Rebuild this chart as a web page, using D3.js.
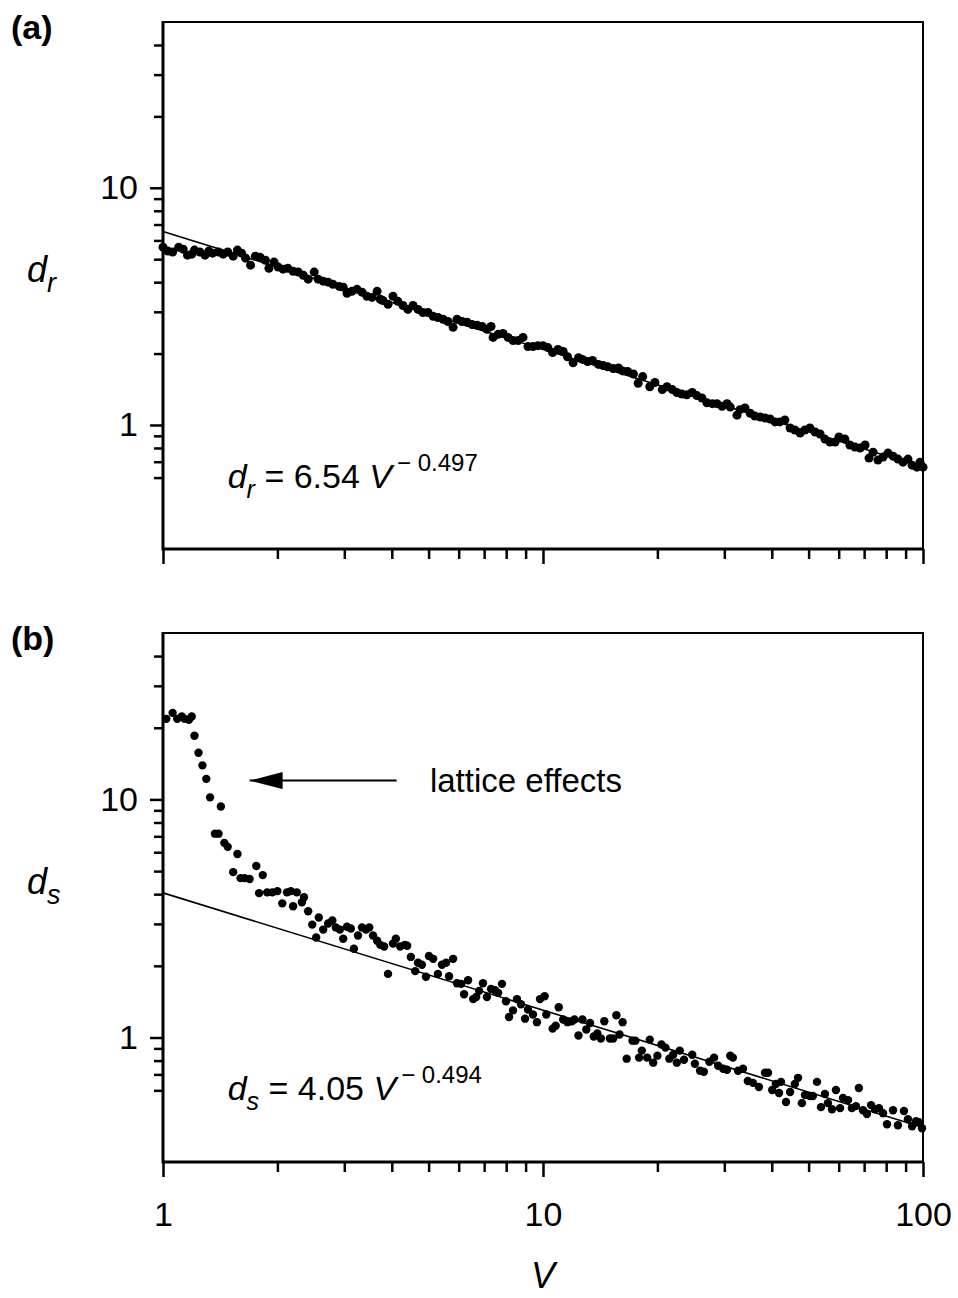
<!DOCTYPE html>
<html>
<head>
<meta charset="utf-8">
<script src="https://cdn.jsdelivr.net/npm/d3@7"></script>
<style>
  body { margin: 0; background: #fff; }
  svg { font-family: Arial, "Liberation Sans", sans-serif; }
</style>
</head>
<body>
<div id="chart"></div>
<script>
// (a) d_r against V
const vR = [1.00,1.03,1.06,1.10,1.13,1.16,1.19,1.21,1.25,1.29,1.32,1.35,1.40,1.44,1.48,1.53,1.57,1.61,1.65,1.70,
  1.75,1.80,1.86,1.90,1.96,2.01,2.07,2.13,2.20,2.27,2.34,2.41,2.50,2.56,2.64,2.72,2.80,2.91,2.98,3.05,
  3.14,3.24,3.34,3.44,3.55,3.66,3.73,3.79,3.91,4.03,4.15,4.28,4.41,4.55,4.69,4.83,4.98,5.14,5.29,5.46,
  5.62,5.80,5.94,6.12,6.31,6.51,6.71,6.91,7.12,7.30,7.39,7.62,7.85,8.09,8.34,8.60,8.86,9.13,9.41,9.70,
  10.0,10.3,10.6,10.95,11.3,11.6,12.0,12.4,12.7,13.1,13.5,14.0,14.4,14.8,15.3,15.8,16.2,16.7,17.3,17.8,
  18.3,19.1,19.7,20.6,21.2,21.9,22.5,23.2,23.9,24.7,25.4,26.2,27.0,27.9,28.7,29.6,30.5,31.1,32.4,33.0,
  34.0,35.1,36.1,37.3,38.4,39.6,40.8,42.0,43.3,44.7,46.0,47.5,48.9,50.4,52.0,53.6,55.2,56.9,58.7,60.1,
  62.3,64.2,66.2,68.3,70.4,72.1,73.9,76.1,78.5,80.9,83.4,85.9,88.6,91.3,93.6,96.4,98.2,100]
const dR = [5.62,5.41,5.36,5.62,5.51,5.20,5.25,5.46,5.36,5.20,5.41,5.30,5.36,5.25,5.36,5.15,5.46,5.30,5.05,4.72,
  5.15,5.10,4.95,4.58,4.86,4.63,4.54,4.58,4.45,4.41,4.28,4.12,4.41,4.12,4.04,4.00,3.92,3.84,3.81,3.59,
  3.66,3.73,3.63,3.49,3.45,3.66,3.39,3.35,3.23,3.49,3.32,3.19,3.07,3.19,3.07,2.98,2.98,2.87,2.84,2.79,
  2.73,2.58,2.79,2.73,2.71,2.65,2.63,2.60,2.53,2.60,2.34,2.41,2.43,2.34,2.27,2.27,2.34,2.14,2.14,2.16,
  2.16,2.12,2.02,2.08,2.04,1.94,1.83,1.92,1.89,1.85,1.87,1.80,1.78,1.76,1.73,1.74,1.69,1.68,1.64,1.50,
  1.60,1.45,1.51,1.41,1.45,1.41,1.37,1.35,1.34,1.37,1.33,1.30,1.24,1.23,1.23,1.20,1.23,1.19,1.10,1.16,
  1.18,1.12,1.09,1.08,1.07,1.06,1.03,1.03,1.05,0.971,0.952,0.925,0.952,0.971,0.934,0.916,0.872,0.847,0.847,0.890,
  0.872,0.823,0.807,0.799,0.823,0.725,0.768,0.711,0.732,0.761,0.739,0.718,0.697,0.718,0.677,0.664,0.697,0.664]

// (b) d_s against V
const vS = [1.02,1.06,1.09,1.12,1.14,1.17,1.19,1.21,1.24,1.27,1.30,1.33,1.37,1.40,1.42,1.45,1.48,1.53,1.57,1.60,
  1.64,1.69,1.76,1.79,1.83,1.88,1.94,2.00,2.06,2.12,2.17,2.20,2.25,2.32,2.35,2.41,2.47,2.53,2.57,2.64,
  2.72,2.79,2.85,2.92,2.98,3.05,3.12,3.18,3.26,3.34,3.42,3.49,3.57,3.66,3.73,3.82,3.91,4.03,4.10,4.21,
  4.33,4.39,4.49,4.61,4.69,4.80,4.92,5.01,5.14,5.29,5.42,5.56,5.66,5.80,5.94,6.09,6.20,6.35,6.55,6.67,
  6.79,6.95,7.12,7.30,7.48,7.62,7.80,7.99,8.14,8.34,8.54,8.75,8.97,9.13,9.41,9.64,9.82,10.1,10.2,10.6,
  10.8,11.0,11.3,11.6,11.9,12.1,12.4,12.7,13.0,13.3,13.6,13.9,14.2,14.5,15.0,15.3,15.6,15.9,16.2,16.6,
  17.2,17.5,17.9,18.2,18.8,19.1,19.5,20.0,20.5,21.0,21.5,22.0,22.5,22.9,23.5,24.7,25.1,25.9,26.5,27.4,
  28.2,28.9,29.8,30.5,31.1,31.6,32.6,33.6,34.6,35.7,37.0,38.4,39.1,40.1,41.0,41.8,42.3,43.6,44.7,46.0,
  46.9,48.0,48.9,50.4,51.3,52.6,53.9,55.2,56.2,57.6,59.0,60.5,61.6,63.5,65.0,66.6,67.8,69.5,71.2,73.0,
  74.8,76.6,78.5,80.4,83.4,85.9,89.1,91.3,93.6,95.9,97.6,99.4]
const dS = [21.8,23.1,21.8,22.3,21.8,21.6,22.3,18.5,15.7,13.9,12.2,10.2,7.18,7.18,9.34,6.57,6.32,4.95,5.90,4.67,
  4.67,4.63,5.25,4.04,4.81,4.07,4.07,4.12,3.66,4.07,4.12,3.56,4.07,3.70,3.88,3.39,2.98,2.63,3.19,2.84,
  3.01,3.10,2.90,2.84,2.60,2.92,2.87,2.36,2.68,2.90,2.84,2.90,2.68,2.55,2.45,2.41,1.85,2.48,2.60,2.41,
  2.45,2.43,2.18,1.90,2.06,2.02,1.80,2.20,2.14,1.85,2.02,2.06,1.81,2.14,1.69,1.68,1.52,1.74,1.45,1.48,
  1.57,1.69,1.48,1.60,1.58,1.54,1.68,1.42,1.22,1.30,1.45,1.38,1.20,1.31,1.25,1.16,1.45,1.49,1.25,1.09,
  1.12,1.34,1.19,1.16,1.17,1.19,1.02,1.19,1.08,1.15,1.01,1.04,0.99,1.17,0.99,0.99,1.24,1.03,1.16,0.815,
  0.97,0.97,0.823,0.881,0.823,0.98,0.784,0.839,0.934,0.907,0.815,0.847,0.784,0.881,0.807,0.847,0.776,0.725,0.718,0.791,
  0.823,0.761,0.739,0.732,0.839,0.823,0.725,0.739,0.657,0.645,0.620,0.711,0.711,0.602,0.638,0.585,0.651,0.536,0.590,0.638,
  0.677,0.530,0.573,0.568,0.568,0.651,0.510,0.579,0.530,0.500,0.602,0.505,0.557,0.546,0.505,0.515,0.614,0.495,0.477,0.520,
  0.500,0.505,0.481,0.432,0.495,0.428,0.491,0.454,0.424,0.445,0.441,0.416]

// power-law fits, end points at V = 1 and V = 100
const fitV = [1, 100]
const fitR = [6.54, 0.664]
const fitS = [4.05, 0.419]

// ticks
const xMajor = [1, 10, 100]
const xMinor = [2, 3, 4, 5, 6, 7, 8, 9, 20, 30, 40, 50, 60, 70, 80, 90]
const yMajor = [1, 10]
const yMinor = [0.6, 0.7, 0.8, 0.9, 2, 3, 4, 5, 6, 7, 8, 9, 20, 30, 40]

const width = 958, height = 1298
const left = 163, right = 923
const fontSize = 34, subSize = 25

const panels = [
  { tag: '(a)', top: 22, bottom: 549, v: vR, d: dR, r: 4.5, fit: fitR, sub: 'r', coef: '6.54', expo: '\u2212 0.497', xLabels: false },
  { tag: '(b)', top: 633, bottom: 1162, v: vS, d: dS, r: 4.2, fit: fitS, sub: 's', coef: '4.05', expo: '\u2212 0.494', xLabels: true }
]

const svg = d3.select('#chart').append('svg')
  .attr('width', width)
  .attr('height', height)

svg.append('defs').append('marker')
  .attr('id', 'head')
  .attr('markerUnits', 'userSpaceOnUse')
  .attr('markerWidth', 34).attr('markerHeight', 18)
  .attr('refX', 33).attr('refY', 8.5)
  .attr('orient', 'auto')
  .append('path')
  .attr('d', 'M0,0 L33,8.5 L0,17 Z')
  .attr('fill', '#000')

const x = d3.scaleLog().domain([1, 100]).range([left, right])

function styleAxis (g) {
  g.select('.domain').remove()
  g.selectAll('.tick line').attr('stroke', '#000').attr('stroke-width', 2.5)
  g.selectAll('.tick text').attr('fill', '#000').attr('font-size', fontSize)
    .attr('font-family', 'Arial, "Liberation Sans", sans-serif')
}

function drawPanel (p) {
  const y = d3.scaleLog().domain([0.3, 50]).range([p.bottom, p.top])
  const g = svg.append('g')

  // y axis: minor + major
  g.append('g').attr('transform', `translate(${left},0)`)
    .call(d3.axisLeft(y).tickValues(yMinor).tickSize(9).tickFormat(''))
    .call(styleAxis)
  g.append('g').attr('transform', `translate(${left},0)`)
    .call(d3.axisLeft(y).tickValues(yMajor).tickSize(13).tickPadding(12).tickFormat(d3.format('d')))
    .call(styleAxis)

  // x axis: minor + major
  g.append('g').attr('transform', `translate(0,${p.bottom})`)
    .call(d3.axisBottom(x).tickValues(xMinor).tickSize(10).tickFormat(''))
    .call(styleAxis)
  g.append('g').attr('transform', `translate(0,${p.bottom})`)
    .call(d3.axisBottom(x).tickValues(xMajor).tickSize(15).tickPadding(25)
      .tickFormat(p.xLabels ? d3.format('d') : ''))
    .call(styleAxis)

  // frame
  g.append('path')
    .attr('d', `M${left},${p.top}H${right}V${p.bottom}`)
    .attr('fill', 'none').attr('stroke', '#000').attr('stroke-width', 2)
  g.append('path')
    .attr('d', `M${left},${p.top - 1}V${p.bottom}H${right + 1}`)
    .attr('fill', 'none').attr('stroke', '#000').attr('stroke-width', 3)

  // fit line
  const line = d3.line().x(d => x(d[0])).y(d => y(d[1]))
  g.append('path')
    .attr('d', line(fitV.map((v, i) => [v, p.fit[i]])))
    .attr('fill', 'none').attr('stroke', '#000').attr('stroke-width', 1.6)

  // data points
  g.append('g').selectAll('circle')
    .data(p.v.map((v, i) => [v, p.d[i]])).enter()
    .append('circle')
    .attr('cx', d => x(d[0]))
    .attr('cy', d => y(d[1]))
    .attr('r', p.r)
    .attr('fill', '#000')

  // panel tag
  g.append('text')
    .attr('x', 11).attr('y', p.top + 17)
    .attr('font-size', 34).attr('font-weight', 'bold')
    .text(p.tag)

  // y label
  const yl = g.append('text')
    .attr('x', 27).attr('y', y(4.0))
    .attr('font-size', 36).attr('font-style', 'italic')
  yl.append('tspan').text('d')
  yl.append('tspan').attr('font-size', 27).attr('dy', 10).text(p.sub)

  // equation
  const eq = g.append('text')
    .attr('x', x(1.48)).attr('y', y(0.545))
    .attr('font-size', fontSize)
  eq.append('tspan').attr('font-style', 'italic').text('d')
  eq.append('tspan').attr('font-style', 'italic').attr('font-size', subSize).attr('dy', 10).text(p.sub)
  eq.append('tspan').attr('dy', -10).text(` = ${p.coef} `)
  eq.append('tspan').attr('font-style', 'italic').text('V')
  eq.append('tspan').attr('font-size', 24).attr('dx', 5).attr('dy', -17).text(p.expo)

  return y
}

const yR = drawPanel(panels[0])
const yS = drawPanel(panels[1])

// annotation in (b)
svg.append('line')
  .attr('x1', x(4.12)).attr('y1', yS(12))
  .attr('x2', x(1.69)).attr('y2', yS(12))
  .attr('stroke', '#000').attr('stroke-width', 2)
  .attr('marker-end', 'url(#head)')
svg.append('text')
  .attr('x', x(5.04)).attr('y', yS(12))
  .attr('dy', '0.36em')
  .attr('font-size', 33)
  .text('lattice effects')

// x label
svg.append('text')
  .attr('x', x(10)).attr('y', 1288)
  .attr('text-anchor', 'middle')
  .attr('font-size', 36).attr('font-style', 'italic')
  .text('V')
</script>
</body>
</html>
